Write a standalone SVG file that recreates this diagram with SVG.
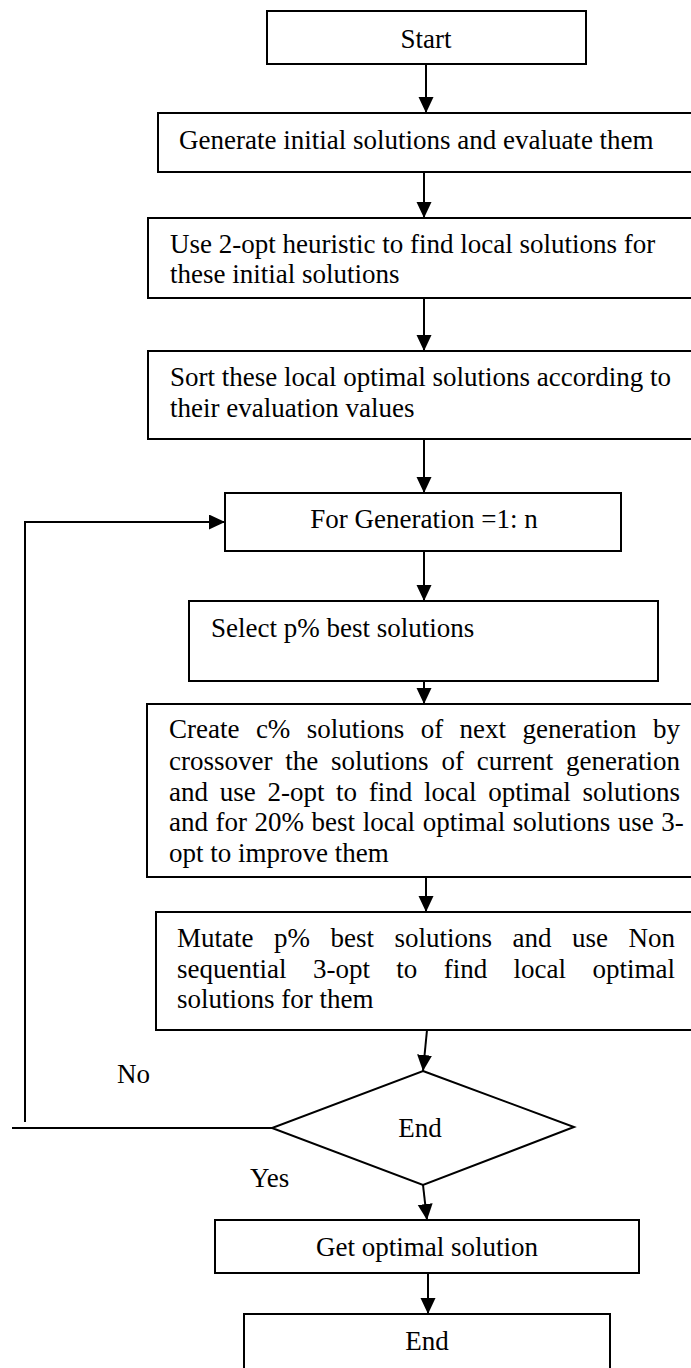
<svg xmlns="http://www.w3.org/2000/svg" width="691" height="1368" viewBox="0 0 691 1368">
<style>
.box{fill:#fff;stroke:#000;stroke-width:2}
.ln{fill:none;stroke:#000;stroke-width:2}
.t{font-family:"Liberation Serif","Times New Roman",serif;font-size:27px;fill:#000}
.c{text-anchor:middle}
</style>
<defs>
<marker id="ah" markerUnits="userSpaceOnUse" markerWidth="17" markerHeight="16" refX="16" refY="7.5" orient="auto">
<path d="M0,0 L16,7.5 L0,15 z" fill="#000"/>
</marker>
</defs>
<rect width="691" height="1368" fill="#fff"/>
<g id="connectors">
<line class="ln" x1="426" y1="64" x2="426" y2="113" marker-end="url(#ah)"/>
<line class="ln" x1="424" y1="172" x2="424" y2="218" marker-end="url(#ah)"/>
<line class="ln" x1="424" y1="298" x2="424" y2="351" marker-end="url(#ah)"/>
<line class="ln" x1="424" y1="439" x2="424" y2="493" marker-end="url(#ah)"/>
<line class="ln" x1="424" y1="551" x2="424" y2="601" marker-end="url(#ah)"/>
<line class="ln" x1="424" y1="681" x2="424" y2="704" marker-end="url(#ah)"/>
<line class="ln" x1="426" y1="877" x2="426" y2="912" marker-end="url(#ah)"/>
<line class="ln" x1="427" y1="1030" x2="423" y2="1071" marker-end="url(#ah)"/>
<line class="ln" x1="423" y1="1185" x2="427" y2="1220" marker-end="url(#ah)"/>
<line class="ln" x1="428" y1="1273" x2="428" y2="1314" marker-end="url(#ah)"/>
<polyline class="ln" points="25,1122 25,522 225,522" marker-end="url(#ah)"/>
<line class="ln" x1="12" y1="1128" x2="272" y2="1128"/>
<text class="t" x="117" y="1083">No</text>
<text class="t" x="250" y="1187">Yes</text>
</g>
<g id="start">
<rect class="box" x="267" y="11" width="319" height="53"/>
<text class="t c" x="426" y="48">Start</text>
</g>
<g id="generate">
<rect class="box" x="158" y="113" width="540" height="59"/>
<text class="t" x="179" y="149">Generate initial solutions and evaluate them</text>
</g>
<g id="twoopt">
<rect class="box" x="148" y="218" width="550" height="80"/>
<text class="t" x="170" y="253">Use 2-opt heuristic to find local solutions for</text>
<text class="t" x="170" y="283">these initial solutions</text>
</g>
<g id="sort">
<rect class="box" x="148" y="351" width="550" height="88"/>
<text class="t" x="170" y="386">Sort these local optimal solutions according to</text>
<text class="t" x="170" y="417">their evaluation values</text>
</g>
<g id="forgen">
<rect class="box" x="225" y="493" width="396" height="58"/>
<text class="t c" x="424" y="528">For Generation =1: n</text>
</g>
<g id="select">
<rect class="box" x="189" y="601" width="469" height="80"/>
<text class="t" x="211" y="637">Select p% best solutions</text>
</g>
<g id="create">
<rect class="box" x="147" y="704" width="551" height="173"/>
<text class="t" y="738"><tspan x="169">Create</tspan><tspan x="255.9">c%</tspan><tspan x="306.8">solutions</tspan><tspan x="420.7">of</tspan><tspan x="459.6">next</tspan><tspan x="522.5">generation</tspan><tspan x="652.9">by</tspan></text>
<text class="t" y="770"><tspan x="169">crossover</tspan><tspan x="285.3">the</tspan><tspan x="331.1">solutions</tspan><tspan x="441.4">of</tspan><tspan x="476.7">current</tspan><tspan x="566">generation</tspan></text>
<text class="t" y="801"><tspan x="169">and</tspan><tspan x="219.7">use</tspan><tspan x="267.4">2-opt</tspan><tspan x="336.1">to</tspan><tspan x="368.8">find</tspan><tspan x="424">local</tspan><tspan x="488.2">optimal</tspan><tspan x="582.4">solutions</tspan></text>
<text class="t" x="169" y="831" word-spacing="0.8">and for 20% best local optimal solutions use 3-</text>
<text class="t" x="169" y="862">opt to improve them</text>
</g>
<g id="mutate">
<rect class="box" x="156" y="912" width="542" height="118"/>
<text class="t" y="947"><tspan x="177">Mutate</tspan><tspan x="274">p%</tspan><tspan x="330.5">best</tspan><tspan x="394.5">solutions</tspan><tspan x="512.5">and</tspan><tspan x="572">use</tspan><tspan x="628.5">Non</tspan></text>
<text class="t" y="978"><tspan x="177">sequential</tspan><tspan x="312.9">3-opt</tspan><tspan x="396.3">to</tspan><tspan x="443.7">find</tspan><tspan x="513.6">local</tspan><tspan x="592.5">optimal</tspan></text>
<text class="t" x="177" y="1008">solutions for them</text>
</g>
<g id="decision">
<polygon class="box" points="423,1071 574,1127 423,1185 272,1128"/>
<text class="t c" x="420" y="1137">End</text>
</g>
<g id="getopt">
<rect class="box" x="215" y="1220" width="424" height="53"/>
<text class="t c" x="427" y="1256">Get optimal solution</text>
</g>
<g id="end">
<rect class="box" x="244" y="1314" width="366" height="70"/>
<text class="t c" x="427" y="1350">End</text>
</g>
</svg>
